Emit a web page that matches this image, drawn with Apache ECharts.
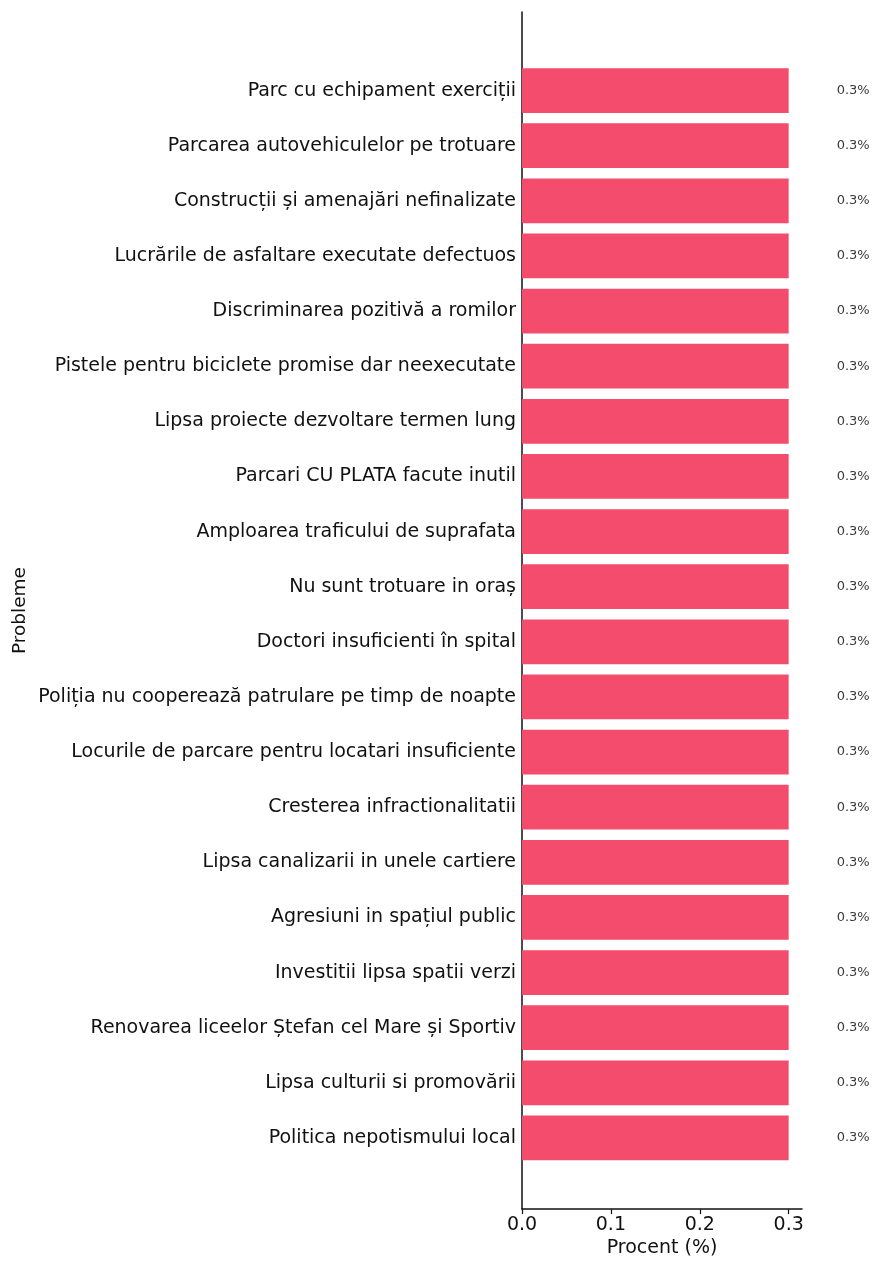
<!DOCTYPE html>
<html>
<head>
<meta charset="utf-8">
<script src="https://cdn.jsdelivr.net/npm/echarts@6/dist/echarts.min.js"></script>
<style>
html,body{margin:0;padding:0;background:#fff;}
#chart{width:879px;height:1263px;}
</style>
</head>
<body>
<div id="chart"></div>
<script>
const categories = [
  "Parc cu echipament exerciții",
  "Parcarea autovehiculelor pe trotuare",
  "Construcții și amenajări nefinalizate",
  "Lucrările de asfaltare executate defectuos",
  "Discriminarea pozitivă a romilor",
  "Pistele pentru biciclete promise dar neexecutate",
  "Lipsa proiecte dezvoltare termen lung",
  "Parcari CU PLATA facute inutil",
  "Amploarea traficului de suprafata",
  "Nu sunt trotuare in oraș",
  "Doctori insuficienti în spital",
  "Poliția nu cooperează patrulare pe timp de noapte",
  "Locurile de parcare pentru locatari insuficiente",
  "Cresterea infractionalitatii",
  "Lipsa canalizarii in unele cartiere",
  "Agresiuni in spațiul public",
  "Investitii lipsa spatii verzi",
  "Renovarea liceelor Ștefan cel Mare și Sportiv",
  "Lipsa culturii si promovării",
  "Politica nepotismului local"
];
const values = [0.3,0.3,0.3,0.3,0.3,0.3,0.3,0.3,0.3,0.3,0.3,0.3,0.3,0.3,0.3,0.3,0.3,0.3,0.3,0.3];
const xTicks = [0, 0.1, 0.2, 0.3];
const xMin = 0, xMax = 0.315;

const FONT = "DejaVu Sans";
const chart = echarts.init(document.getElementById('chart'), null, {renderer: 'canvas'});
chart.setOption({
  backgroundColor: '#ffffff',
  animation: false,
  textStyle: {fontFamily: FONT},
  grid: [
    {left: 522, right: 77, top: 63, bottom: 97.5, containLabel: false},
    {left: 522, right: 77, top: 12, bottom: 49, containLabel: false}
  ],
  xAxis: [
    {gridIndex: 0, type: 'value', min: xMin, max: xMax, show: false, splitLine: {show: false}},
    {gridIndex: 1, type: 'value', min: xMin, max: xMax,
     name: 'Procent (%)', nameLocation: 'middle', nameGap: 21,
     nameTextStyle: {fontFamily: FONT, fontSize: 19, color: '#111'},
     axisLine: {show: true, onZero: false, lineStyle: {color: '#111', width: 1.5}},
     axisTick: {show: true, length: 5, lineStyle: {color: '#111', width: 1.2}, customValues: xTicks},
     axisLabel: {show: true, margin: 6, fontFamily: FONT, fontSize: 19, color: '#111',
                 customValues: xTicks, formatter: v => Number(v).toFixed(1)},
     splitLine: {show: false}}
  ],
  yAxis: [
    {gridIndex: 0, type: 'category', data: categories, inverse: true,
     axisLine: {show: false},
     axisTick: {show: false},
     axisLabel: {margin: 6, fontFamily: FONT, fontSize: 19, color: '#111'},
     splitLine: {show: false}},
    {gridIndex: 1, type: 'value', min: 0, max: 1,
     name: 'Probleme', nameLocation: 'middle', nameGap: 492, nameRotate: 90,
     nameTextStyle: {fontFamily: FONT, fontSize: 18.5, color: '#111'},
     axisLine: {show: true, onZero: false, lineStyle: {color: '#111', width: 1.5}},
     axisTick: {show: false}, axisLabel: {show: false}, splitLine: {show: false}}
  ],
  series: [{
    type: 'bar',
    xAxisIndex: 0, yAxisIndex: 0,
    data: values,
    barWidth: '81%',
    itemStyle: {color: '#f34c6d'},
    label: {show: true, position: 'right', distance: 48,
            fontFamily: FONT, fontSize: 13, color: '#3a3a3a',
            formatter: p => p.value + '%'}
  }]
});
</script>
</body>
</html>
